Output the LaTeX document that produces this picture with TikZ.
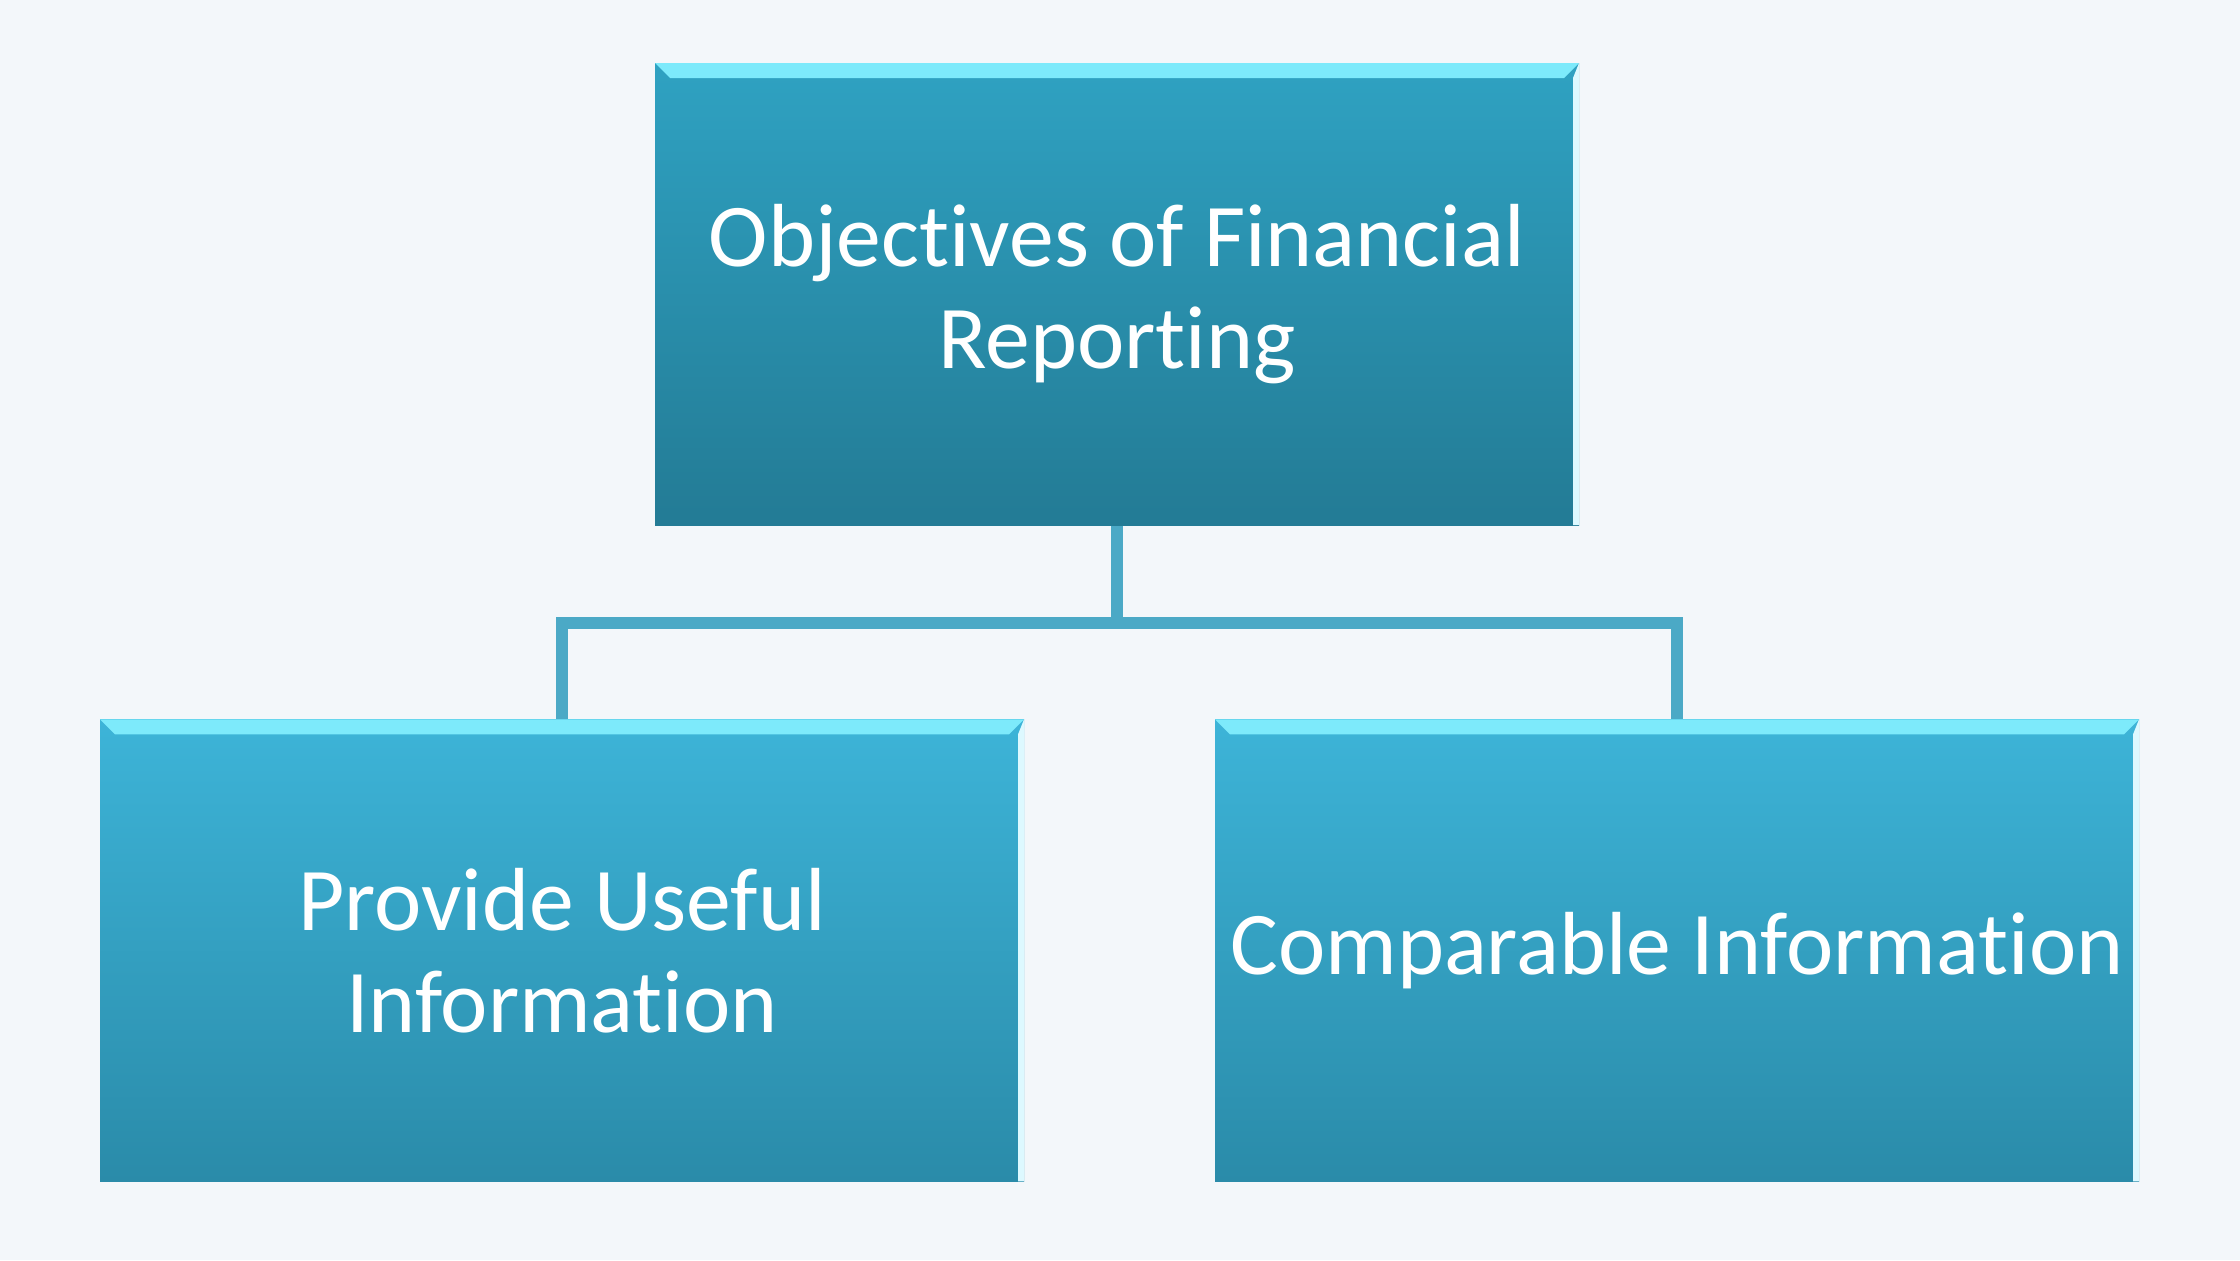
\documentclass[tikz,border=0pt]{standalone}
\usepackage{fontspec}
\setmainfont{Carlito}[Ligatures=NoCommon]
\usetikzlibrary{positioning,calc}
\definecolor{paper}{HTML}{F3F7FA}
\definecolor{topup}{HTML}{2FA2C2}
\definecolor{topdown}{HTML}{237B95}
\definecolor{lowup}{HTML}{3DB4D8}
\definecolor{lowdown}{HTML}{2A8BA9}
\definecolor{bevel}{HTML}{7DEAFB}
\definecolor{rim}{HTML}{DDF9FF}
\definecolor{wire}{HTML}{4BA9C6}

\begin{document}
\begin{tikzpicture}[font=\fontsize{25.5}{29}\selectfont,
  box/.style={minimum width=9.24cm,minimum height=4.62cm,inner sep=0pt,align=center,text=white,
    path picture={
      \fill[bevel] (path picture bounding box.north west) -- (path picture bounding box.north east)
        -- ([xshift=-1.5mm,yshift=-1.5mm]path picture bounding box.north east)
        -- ([xshift=1.5mm,yshift=-1.5mm]path picture bounding box.north west) -- cycle;
      \fill[rim] (path picture bounding box.north east) -- (path picture bounding box.south east)
        -- ([xshift=-.6mm]path picture bounding box.south east)
        -- ([xshift=-.6mm,yshift=-1.5mm]path picture bounding box.north east) -- cycle;}},
  head/.style={box,top color=topup,bottom color=topdown},
  leaf/.style={box,top color=lowup,bottom color=lowdown},
  link/.style={draw=wire,line width=3.4pt}]
\fill[paper] (0,0) rectangle (22.4,12.6);
\node[head] (objectives) at (11.17,9.66) {Objectives of Financial\\Reporting};
\node[leaf,below=1.93cm of objectives,xshift=-5.55cm] (useful) {Provide Useful\\Information};
\node[leaf,below=1.93cm of objectives,xshift=5.6cm] (comparable) {Comparable Information};
\coordinate (join) at ($(objectives.south)+(0,-0.97)$);
\draw[link] (objectives.south) -- (join);
\draw[link] (join) -| (useful.north);
\draw[link] (join) -| (comparable.north);
\end{tikzpicture}
\end{document}
